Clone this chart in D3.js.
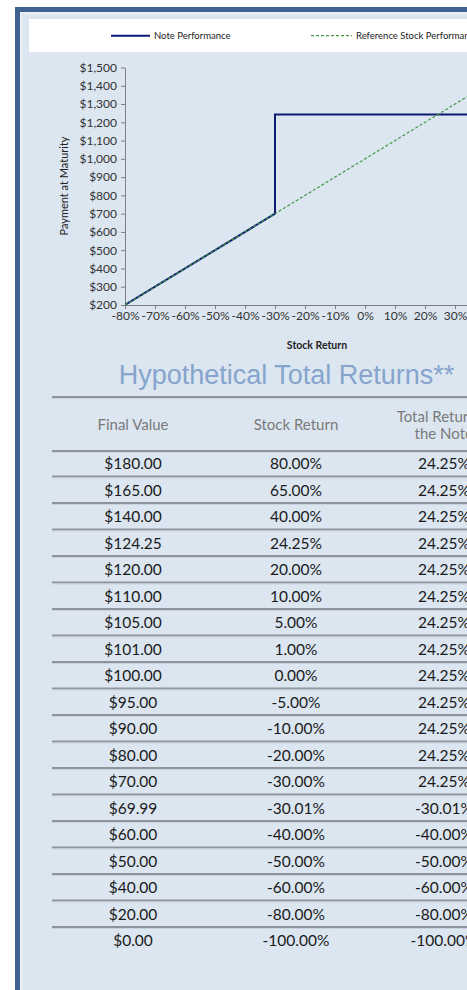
<!DOCTYPE html>
<html><head><meta charset="utf-8">
<script src="https://cdn.jsdelivr.net/npm/d3@7"></script>
<style>body{margin:0;background:#fff;overflow:hidden}svg{display:block}</style>
</head><body>
<script>
// ---- data ----
const xTickValues = [-0.8,-0.7,-0.6,-0.5,-0.4,-0.3,-0.2,-0.1,0,0.1,0.2,0.3];
const yTickValues = [200,300,400,500,600,700,800,900,1000,1100,1200,1300,1400,1500];
const noteX = [-0.8,-0.3,-0.3,0.5];
const noteY = [200,700,1242.5,1242.5];
const refX = [-0.8,0.5];
const refY = [200,1500];
const legendLabels = ["Note Performance","Reference Stock Performance"];
const tableTitle = "Hypothetical Total Returns**";
const headers = [["Final Value"],["Stock Return"],["Total Return on","the Notes"]];
const finalValues = [180,165,140,124.25,120,110,105,101,100,95,90,80,70,69.99,60,50,40,20,0];
const stockReturns = [80,65,40,24.25,20,10,5,1,0,-5,-10,-20,-30,-30.01,-40,-50,-60,-80,-100];
const noteReturns = [24.25,24.25,24.25,24.25,24.25,24.25,24.25,24.25,24.25,24.25,24.25,24.25,24.25,-30.01,-40,-50,-60,-80,-100];

const W=467,H=990;
const svg=d3.select("body").append("svg").attr("width",W).attr("height",H);
const bg="#dce6f1";
// frame
svg.append("rect").attr("x",15).attr("y",7).attr("width",500).attr("height",1000).attr("fill","#3f6390");
svg.append("rect").attr("x",20).attr("y",12).attr("width",500).attr("height",1000).attr("fill","#eaf0f8");
svg.append("rect").attr("x",22).attr("y",14).attr("width",500).attr("height",1000).attr("fill",bg);

// legend band
svg.append("rect").attr("x",29).attr("y",19).attr("width",460).attr("height",33).attr("fill","#fff");
const lg=svg.append("g").attr("font-family","Lato, sans-serif").attr("font-size",9.5).attr("fill","#222");
lg.append("line").attr("x1",111).attr("x2",150).attr("y1",35.7).attr("y2",35.7).attr("stroke","#0b1a72").attr("stroke-width",2);
lg.append("text").attr("x",154).attr("y",39).text(legendLabels[0]);
lg.append("line").attr("x1",311).attr("x2",352).attr("y1",35.7).attr("y2",35.7).attr("stroke","#3f9a3f").attr("stroke-width",1.2).attr("stroke-dasharray","3,2");
lg.append("text").attr("x",356).attr("y",39).text(legendLabels[1]);

// scales
const x=d3.scaleLinear().domain([-0.8,0.5]).range([125,515]);
const y=d3.scaleLinear().domain([200,1500]).range([305,67.5]);

const axisColor="#7f7f7f";
const yAxis=svg.append("g").attr("transform","translate(125,0)")
 .call(d3.axisLeft(y).tickValues(yTickValues).tickSize(4).tickSizeOuter(0).tickPadding(4)
 .tickFormat(d=>"$"+d3.format(",")(d)));
const xAxis=svg.append("g").attr("transform","translate(0,305)")
 .call(d3.axisBottom(x).tickValues(xTickValues).tickSize(4).tickSizeOuter(0).tickPadding(2)
 .tickFormat(d=>Math.round(d*100)+"%"));
[yAxis,xAxis].forEach(a=>{
 a.select(".domain").attr("stroke",axisColor);
 a.selectAll(".tick line").attr("stroke",axisColor);
 a.selectAll("text").attr("font-family","Lato, sans-serif").attr("font-size",12).attr("fill","#333");
});

svg.append("text").attr("x",317).attr("y",349).attr("text-anchor","middle")
 .attr("font-family","Lato, sans-serif").attr("font-size",10.5).attr("font-weight",700).attr("fill","#222").text("Stock Return");
svg.append("text").attr("transform","translate(68,186) rotate(-90)").attr("text-anchor","middle")
 .attr("font-family","Lato, sans-serif").attr("font-size",11).attr("fill","#222").text("Payment at Maturity");

// clip
svg.append("clipPath").attr("id","plot").append("rect").attr("x",125).attr("y",66).attr("width",400).attr("height",240);
const line=d3.line().x(d=>x(d[0])).y(d=>y(d[1]));
const plot=svg.append("g").attr("clip-path","url(#plot)");
plot.append("path").datum(noteX.map((v,i)=>[v,noteY[i]])).attr("d",line).attr("fill","none")
 .attr("stroke","#0b1a72").attr("stroke-width",2);
plot.append("path").datum(refX.map((v,i)=>[v,refY[i]])).attr("d",line).attr("fill","none")
 .attr("stroke","#3f9a3f").attr("stroke-width",1.2).attr("stroke-dasharray","3,2");

// table title
svg.append("text").attr("x",286.5).attr("y",384).attr("text-anchor","middle")
 .attr("font-family","'Liberation Sans', Arial, sans-serif").attr("font-size",27).attr("fill","#86a4cc").text(tableTitle);

const colX=[133,296,447];
const lineColor="#8f949a";
function hline(yy){svg.append("line").attr("x1",52).attr("x2",480).attr("y1",yy).attr("y2",yy).attr("stroke",lineColor).attr("stroke-width",2);
 svg.append("line").attr("x1",52).attr("x2",480).attr("y1",yy+1.5).attr("y2",yy+1.5).attr("stroke","#c9d2dd").attr("stroke-width",1);}
hline(397);
const hg=svg.append("g").attr("font-family","Lato, sans-serif").attr("font-size",15).attr("fill","#7a7a7a").attr("text-anchor","middle");
headers.forEach((h,i)=>{
 const n=h.length;
 h.forEach((t,j)=>{hg.append("text").attr("x",colX[i]).attr("y",425+(j-(n-1)/2)*17).attr("dy","0.35em").text(t);});
});
hline(451);
const rowY=i=>464+i*26.5;
const tg=svg.append("g").attr("font-family","Lato, sans-serif").attr("font-size",15.5).attr("fill","#1a1a1a").attr("text-anchor","middle");
finalValues.forEach((v,i)=>{
 tg.append("text").attr("x",colX[0]).attr("y",rowY(i)).attr("dy","0.35em").text("$"+v.toFixed(2));
 tg.append("text").attr("x",colX[1]).attr("y",rowY(i)).attr("dy","0.35em").text(stockReturns[i].toFixed(2)+"%");
 tg.append("text").attr("x",444).attr("y",rowY(i)).attr("dy","0.35em").text(noteReturns[i].toFixed(2)+"%");
 if(i<finalValues.length-1) hline(rowY(i)+12.5);
});
</script>
</body></html>
